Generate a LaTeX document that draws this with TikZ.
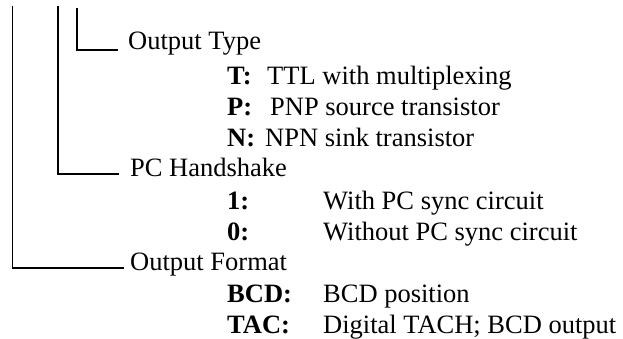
\documentclass[tikz,border=0pt]{standalone}
\usepackage{fontspec}
\setmainfont{Liberation Serif}
\begin{document}
\begin{tikzpicture}[x=1pt,y=-1pt,
  wire/.style={line width=1.3pt, line cap=rect},
  lbl/.style={anchor=base west, inner sep=0pt, font=\fontsize{26.5}{30}\selectfont},
  key/.style={anchor=base west, inner sep=0pt, font=\fontsize{26.5}{30}\selectfont\bfseries}]
\useasboundingbox (0,0) rectangle (623,339);
% headings
\node[lbl] (ot) at (128,50) {Output Type};
\node[lbl] (pc) at (130,177) {PC Handshake};
\node[lbl] (of) at (130,270) {Output Format};
% Output Type options
\node[key] (kt) at (227,85) {T:};
\node[lbl] (vt) at (267,85) {TTL with multiplexing};
\node[key] (kp) at (227,116) {P:};
\node[lbl] (vp) at (270,116) {PNP source transistor};
\node[key] (kn) at (227,147) {N:};
\node[lbl] (vn) at (265,147) {NPN sink transistor};
% PC Handshake options
\node[key] (k1) at (227,209) {1:};
\node[lbl] (v1) at (323,209) {With PC sync circuit};
\node[key] (k0) at (227,240) {0:};
\node[lbl] (v0) at (323,240) {Without PC sync circuit};
% Output Format options
\node[key] (kb) at (227,302) {BCD:};
\node[lbl] (vb) at (323,302) {BCD position};
\node[key] (kc) at (227,333) {TAC:};
\node[lbl] (vc) at (323,333) {Digital TACH; BCD output};
% tree lines
\coordinate (top1) at (12.7,7);
\coordinate (top2) at (58,7);
\coordinate (top3) at (77,9);
\draw[wire] (top3) |- ([xshift=-11pt,yshift=0pt]ot.base west);
\draw[wire] (top2) |- ([xshift=-12pt,yshift=3pt]pc.base west);
\draw[wire] (top1) |- ([xshift=-7pt,yshift=2pt]of.base west);
\end{tikzpicture}
\end{document}
